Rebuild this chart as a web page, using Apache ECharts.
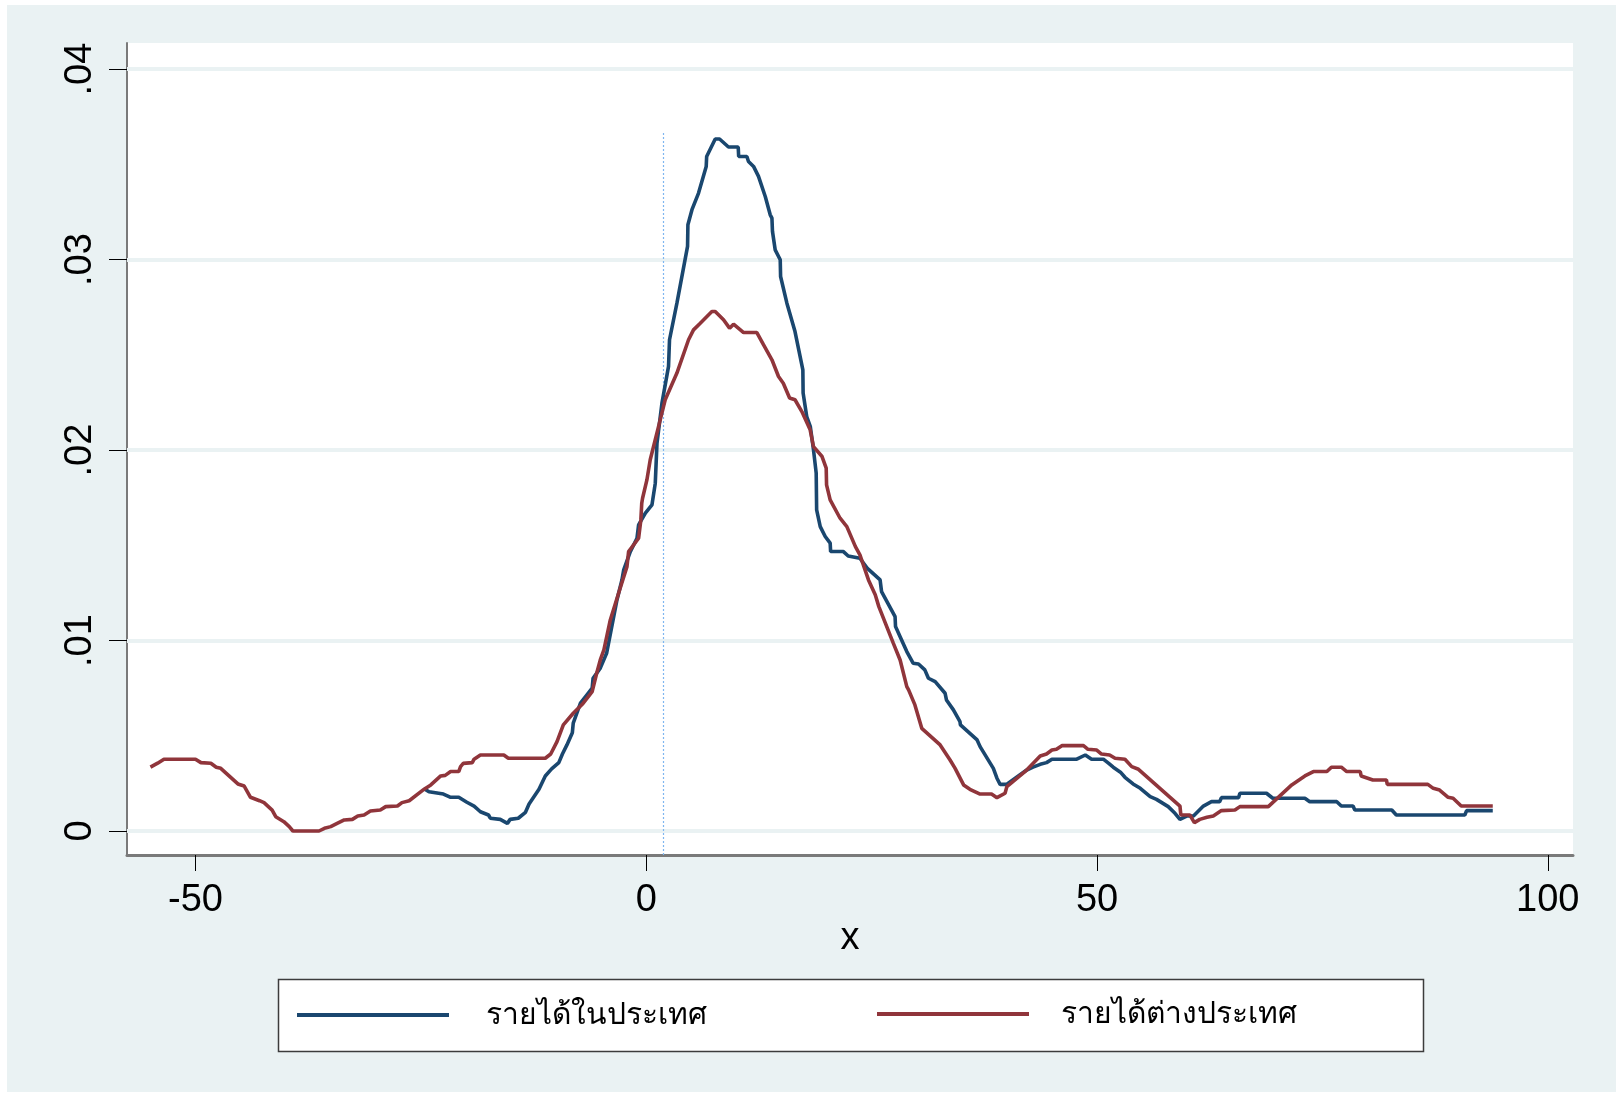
<!DOCTYPE html>
<html>
<head>
<meta charset="utf-8">
<title>Kernel density</title>
<script src="https://cdn.jsdelivr.net/npm/echarts@6/dist/echarts.min.js"></script>
<style>
    html, body { margin: 0; padding: 0; background: #fff; }
    #chart { width: 1623px; height: 1097px; }
</style>
</head>
<body>
<div id="chart"></div>
<script>
    // domestic income (blue)
    var domesticX = [-24.6, -24.1, -23.9, -22.5, -21.7, -20.8, -19.9, -19.1, -18.4, -17.5, -17.3, -16.2, -15.4, -15.1, -14.2, -13.4, -13.0, -11.9, -11.2, -10.5,
        -9.7, -9.3, -8.8, -8.2, -8.1, -7.3, -6.6, -6.0, -5.9, -5.1, -4.4, -3.25, -2.7, -2.5, -1.77, -1.03, -0.85, -0.1, 0.63, 1.0,
        1.19, 1.74, 2.47, 2.58, 3.4, 4.58, 4.62, 5.07, 5.8, 6.65, 6.7, 7.65, 8.13, 9.12, 10.2, 10.25, 11.16, 11.34, 11.9, 12.45,
        13.2, 13.75, 13.94, 14.0, 14.3, 14.86, 14.9, 15.6, 16.5, 17.37, 17.4, 17.8, 18.2, 18.55, 18.85, 18.9, 19.3, 19.85, 20.4, 20.45,
        21.87, 22.4, 23.7, 24.5, 25.94, 26.1, 27.6, 27.65, 28.16, 28.9, 29.6, 30.2, 30.9, 31.3, 32.05, 32.2, 33.15, 33.3, 34.07, 34.8,
        34.85, 36.7, 37.03, 38.5, 38.9, 39.25, 40.0, 42.2, 42.9, 43.7, 44.4, 45.0, 47.75, 48.7, 49.4, 50.7, 51.3, 51.8, 52.6, 53.1,
        54.0, 54.8, 55.9, 56.6, 57.9, 58.65, 59.2, 60.0, 60.7, 61.8, 62.7, 63.6, 63.8, 65.7, 65.85, 68.8, 69.5, 73.06, 73.6, 76.6,
        77.1, 78.4, 78.6, 82.7, 83.2, 90.8, 91.0, 93.9];
    var domesticY = [0.00221, 0.00206, 0.00198, 0.00194, 0.00177, 0.00177, 0.00151, 0.00131, 0.00101, 0.00084, 0.00067, 0.00061, 0.00040, 0.00061, 0.00067, 0.00098, 0.00142, 0.00219, 0.00289, 0.00326,
        0.00359, 0.00404, 0.00452, 0.00516, 0.00566, 0.00671, 0.00714, 0.00750, 0.00802, 0.00855, 0.00933, 0.01213, 0.01318, 0.01371, 0.01467, 0.01537, 0.01607, 0.01669, 0.01712, 0.01826,
        0.02036, 0.02246, 0.02439, 0.02579, 0.02771, 0.03069, 0.03183, 0.03262, 0.03349, 0.03489, 0.03541, 0.03633, 0.03633, 0.03591, 0.03591, 0.03541, 0.03541, 0.03515, 0.03489, 0.03437,
        0.03331, 0.03235, 0.03218, 0.03148, 0.03051, 0.02999, 0.02911, 0.02771, 0.02622, 0.02421, 0.02299, 0.02176, 0.02123, 0.02001, 0.01879, 0.01686, 0.01598, 0.01546, 0.01511, 0.01467,
        0.01467, 0.01444, 0.01432, 0.01380, 0.01318, 0.01257, 0.01125, 0.01073, 0.01020, 0.00942, 0.00881, 0.00877, 0.00846, 0.00802, 0.00784, 0.00776, 0.00723, 0.00688, 0.00636, 0.00574,
        0.00557, 0.00478, 0.00443, 0.00329, 0.00277, 0.00245, 0.00245, 0.00320, 0.00335, 0.00350, 0.00359, 0.00377, 0.00377, 0.00399, 0.00377, 0.00377, 0.00355, 0.00335, 0.00309, 0.00282,
        0.00247, 0.00224, 0.00180, 0.00166, 0.00128, 0.00093, 0.00061, 0.00079, 0.00079, 0.00131, 0.00154, 0.00154, 0.00175, 0.00175, 0.00198, 0.00198, 0.00172, 0.00172, 0.00154, 0.00154,
        0.00131, 0.00131, 0.00110, 0.00110, 0.00084, 0.00084, 0.00107, 0.00107];

    // foreign income (red)
    var foreignX = [-55.0, -54.2, -53.5, -50.0, -49.4, -48.3, -47.7, -47.2, -45.3, -44.6, -43.9, -42.9, -42.4, -41.5, -41.1, -40.2, -39.6, -39.2, -36.3, -35.7,
        -35.0, -34.4, -33.5, -32.6, -32.0, -31.3, -30.6, -29.5, -28.9, -27.6, -27.1, -26.3, -24.6, -23.9, -22.8, -22.3, -21.7, -20.8, -20.6, -20.3,
        -19.3, -19.1, -18.4, -15.8, -15.3, -11.2, -10.6, -9.9, -9.2, -8.1, -7.1, -6.0, -5.5, -5.1, -4.7, -3.99, -3.07, -2.14, -1.96, -0.85,
        -0.6, -0.5, -0.41, 0.07, 0.44, 1.36, 2.1, 3.4, 4.69, 5.24, 5.99, 7.28, 7.65, 8.57, 9.24, 9.68, 10.8, 12.27, 13.0, 13.94,
        14.67, 15.2, 15.9, 16.5, 17.26, 18.18, 18.55, 19.5, 19.96, 20.0, 20.4, 21.5, 22.25, 23.2, 23.7, 24.65, 25.4, 25.8, 27.4, 28.16,
        28.9, 29.1, 29.8, 30.56, 32.6, 32.8, 33.7, 34.26, 35.2, 35.9, 37.03, 38.3, 38.9, 39.8, 40.0, 42.2, 43.7, 44.4, 45.0, 45.5,
        46.1, 48.5, 49.0, 49.97, 50.5, 51.4, 52.0, 53.1, 53.85, 54.6, 59.2, 59.3, 60.3, 60.8, 61.4, 62.2, 62.9, 63.8, 65.3, 65.85,
        69.0, 71.6, 73.06, 74.0, 75.5, 76.0, 77.1, 77.7, 79.2, 79.3, 80.6, 82.1, 82.2, 86.7, 87.3, 88.0, 88.95, 89.5, 90.4, 93.9];
    var foreignY = [0.00335, 0.00356, 0.00377, 0.00377, 0.00359, 0.00356, 0.00335, 0.00329, 0.00247, 0.00236, 0.00177, 0.00159, 0.00149, 0.00110, 0.00075, 0.00049, 0.00023, 0, 0, 0.00014,
        0.00023, 0.00037, 0.00058, 0.00061, 0.00079, 0.00084, 0.00105, 0.00110, 0.00128, 0.00131, 0.00149, 0.00159, 0.00221, 0.00242, 0.00289, 0.00292, 0.00312, 0.00312, 0.00338, 0.00355,
        0.00359, 0.00377, 0.00399, 0.00399, 0.00382, 0.00382, 0.00404, 0.00469, 0.00557, 0.00618, 0.00665, 0.00732, 0.00828, 0.00898, 0.00951, 0.01108, 0.01248, 0.01388, 0.01467, 0.01537,
        0.01633, 0.01721, 0.01747, 0.01843, 0.01949, 0.02123, 0.02264, 0.02404, 0.02579, 0.02631, 0.02666, 0.02727, 0.02727, 0.02684, 0.02640, 0.02661, 0.02617, 0.02617, 0.02553, 0.02474,
        0.02386, 0.02351, 0.02273, 0.02264, 0.02202, 0.02106, 0.02018, 0.01966, 0.01905, 0.01817, 0.01738, 0.01642, 0.01598, 0.01493, 0.01450, 0.01318, 0.01240, 0.01178, 0.00986, 0.00898,
        0.00758, 0.00741, 0.00662, 0.00539, 0.00452, 0.00443, 0.00373, 0.00329, 0.00242, 0.00219, 0.00194, 0.00194, 0.00175, 0.00198, 0.00233, 0.00320, 0.00394, 0.00404, 0.00425, 0.00429,
        0.00448, 0.00448, 0.00429, 0.00425, 0.00404, 0.00399, 0.00382, 0.00377, 0.00338, 0.00324, 0.00131, 0.00084, 0.00084, 0.00044, 0.00061, 0.00072, 0.00079, 0.00107, 0.00110, 0.00128,
        0.00128, 0.00242, 0.00289, 0.00312, 0.00312, 0.00335, 0.00335, 0.00312, 0.00312, 0.00289, 0.00268, 0.00268, 0.00245, 0.00245, 0.00224, 0.00215, 0.00177, 0.00172, 0.00131, 0.00131];

    var seriesNames = ['รายได้ในประเทศ', 'รายได้ต่างประเทศ'];
    var xTicks = [-50, 0, 50, 100];
    var yTicks = [0, 0.01, 0.02, 0.03, 0.04];
    var yTickLabels = ['0', '.01', '.02', '.03', '.04'];
    var refLineX = 1.9;
    var refLineTop = 0.0367;

    var labelFont = '"Liberation Sans", Arial, sans-serif';
    var thaiFont = '"Noto Sans", "DejaVu Sans", sans-serif';

    function pairs(xs, ys) {
        return xs.map(function (x, i) { return [x, ys[i]]; });
    }

    var chart = echarts.init(document.getElementById('chart'));

    chart.setOption({
        animation: false,
        backgroundColor: '#ffffff',
        graphic: [
            { type: 'rect', silent: true, z: -10, shape: { x: 7, y: 5, width: 1609, height: 1087 }, style: { fill: '#eaf2f3' } },
            { type: 'rect', silent: true, z: 0, shape: { x: 278.5, y: 979.5, width: 1145, height: 72 }, style: { fill: '#ffffff', stroke: '#3c3c3c', lineWidth: 1.5 } }
        ],
        grid: { left: 127, top: 43, width: 1446, height: 812, show: true, backgroundColor: '#ffffff', borderWidth: 0 },
        xAxis: {
            type: 'value', min: -57.6, max: 102.8,
            name: 'x', nameLocation: 'middle', nameGap: 65, nameMoveOverlap: false,
            nameTextStyle: { fontSize: 38, color: '#000', fontFamily: labelFont },
            axisLine: { show: true, onZero: false, lineStyle: { color: '#7a7a7a', width: 3 } },
            axisTick: { show: true, customValues: xTicks, length: 16, lineStyle: { color: '#000', width: 1 } },
            axisLabel: { customValues: xTicks, fontSize: 38, color: '#000', margin: 27, fontFamily: labelFont },
            splitLine: { show: false }
        },
        yAxis: {
            type: 'value', min: -0.00126, max: 0.04137,
            axisLine: { show: true, onZero: false, lineStyle: { color: '#7a7a7a', width: 2 } },
            axisTick: { show: true, customValues: yTicks, length: 18, lineStyle: { color: '#000', width: 1 } },
            axisLabel: {
                customValues: yTicks, rotate: 90, fontSize: 38, color: '#000', margin: 27, fontFamily: labelFont,
                formatter: function (v) {
                    var i = yTicks.findIndex(function (t) { return Math.abs(t - v) < 1e-9; });
                    return i >= 0 ? yTickLabels[i] : '';
                }
            },
            splitLine: { show: false }
        },
        legend: [
            {
                data: [seriesNames[0]], left: 292, top: 990, icon: 'rect', itemWidth: 152, itemHeight: 4,
                textStyle: { fontSize: 30, lineHeight: 40, color: '#000', fontFamily: thaiFont, padding: [0, 0, 0, 32] }
            },
            {
                data: [seriesNames[1]], left: 872, top: 989, icon: 'rect', itemWidth: 152, itemHeight: 4,
                textStyle: { fontSize: 30, lineHeight: 40, color: '#000', fontFamily: thaiFont, padding: [0, 0, 0, 27] }
            }
        ],
        series: [
            {
                name: seriesNames[0], type: 'line', data: pairs(domesticX, domesticY),
                symbol: 'none', lineStyle: { color: '#1a476f', width: 3.6 }, itemStyle: { color: '#1a476f' }, z: 3,
                markLine: {
                    silent: true, symbol: 'none', z: 1, label: { show: false },
                    lineStyle: { color: '#eaf2f3', width: 4, type: 'solid' },
                    data: yTicks.map(function (t) { return { yAxis: t }; }).concat([
                        [
                            { coord: [refLineX, -0.00126], lineStyle: { color: '#7fb6f0', width: 1.2, type: [2, 2] } },
                            { coord: [refLineX, refLineTop] }
                        ]
                    ])
                }
            },
            {
                name: seriesNames[1], type: 'line', data: pairs(foreignX, foreignY),
                symbol: 'none', lineStyle: { color: '#90353b', width: 3.6 }, itemStyle: { color: '#90353b' }, z: 4
            }
        ]
    });
</script>
</body>
</html>
